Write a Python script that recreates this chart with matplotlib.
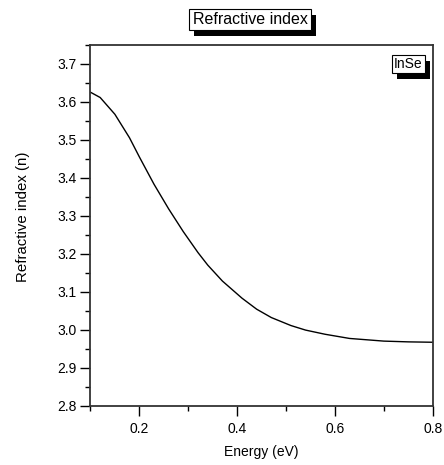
import matplotlib
matplotlib.use("Agg")
import matplotlib.pyplot as plt
import matplotlib.patheffects as pe
from matplotlib.ticker import MultipleLocator

plt.rcParams['font.family'] = ['Liberation Sans', 'DejaVu Sans']

# values
energy = [0.10, 0.12, 0.15, 0.18, 0.20, 0.23, 0.26, 0.29, 0.32, 0.34, 0.37,
          0.41, 0.44, 0.47, 0.51, 0.54, 0.58, 0.63, 0.70, 0.75, 0.80]
n_index = [3.625, 3.611, 3.567, 3.505, 3.455, 3.383, 3.318, 3.258, 3.203, 3.170, 3.128,
           3.083, 3.054, 3.032, 3.011, 2.999, 2.988, 2.977, 2.970, 2.968, 2.967]

title_text = "Refractive index"
legend_text = "InSe"

fig = plt.figure(figsize=(4.44, 4.65), dpi=100)
ax = fig.add_axes([0.2036, 0.1275, 0.7709, 0.7764])

ax.plot(energy, n_index, color='black', lw=1.0)

ax.set_xlim(0.1, 0.8)
ax.set_ylim(2.8, 3.75)
ax.xaxis.set_minor_locator(MultipleLocator(0.1))
ax.yaxis.set_minor_locator(MultipleLocator(0.05))
ax.set_xticks([0.2, 0.4, 0.6, 0.8])
ax.set_yticks([2.8, 2.9, 3.0, 3.1, 3.2, 3.3, 3.4, 3.5, 3.6, 3.7])

ax.tick_params(which='major', direction='out', length=7, width=1, labelsize=10)
ax.tick_params(which='minor', direction='out', length=3.5, width=1)
ax.tick_params(axis='x', pad=5)
ax.tick_params(axis='y', pad=3)
for sp in ax.spines.values():
    sp.set_linewidth(1.3)
    sp.set_color('#333333')

ax.set_xlabel("Energy (eV)", fontsize=10, labelpad=6)
fig.text(22.5 / 444, 1 - 217 / 465, "Refractive index (n)", fontsize=10.8,
         rotation=90, ha='center', va='center')

# boxed labels with a black drop shadow, Origin style
shadow = [pe.SimplePatchShadow(offset=(3.6, -4.3), shadow_rgbFace='black', alpha=1), pe.Normal()]

def shadow_box(x, y, s, size, pad):
    t = fig.text(x, y, s, fontsize=size, ha='center', va='center', color='black',
                 bbox=dict(boxstyle=f'square,pad={pad}', fc='white', ec='black', lw=0.8))
    t.get_bbox_patch().set_path_effects(shadow)

shadow_box(250 / 444, 1 - 19.5 / 465, title_text, 11.5, 0.2)
shadow_box(408.5 / 444, 1 - 63.8 / 465, legend_text, 10, 0.15)

fig.savefig("out.png", dpi=100)
